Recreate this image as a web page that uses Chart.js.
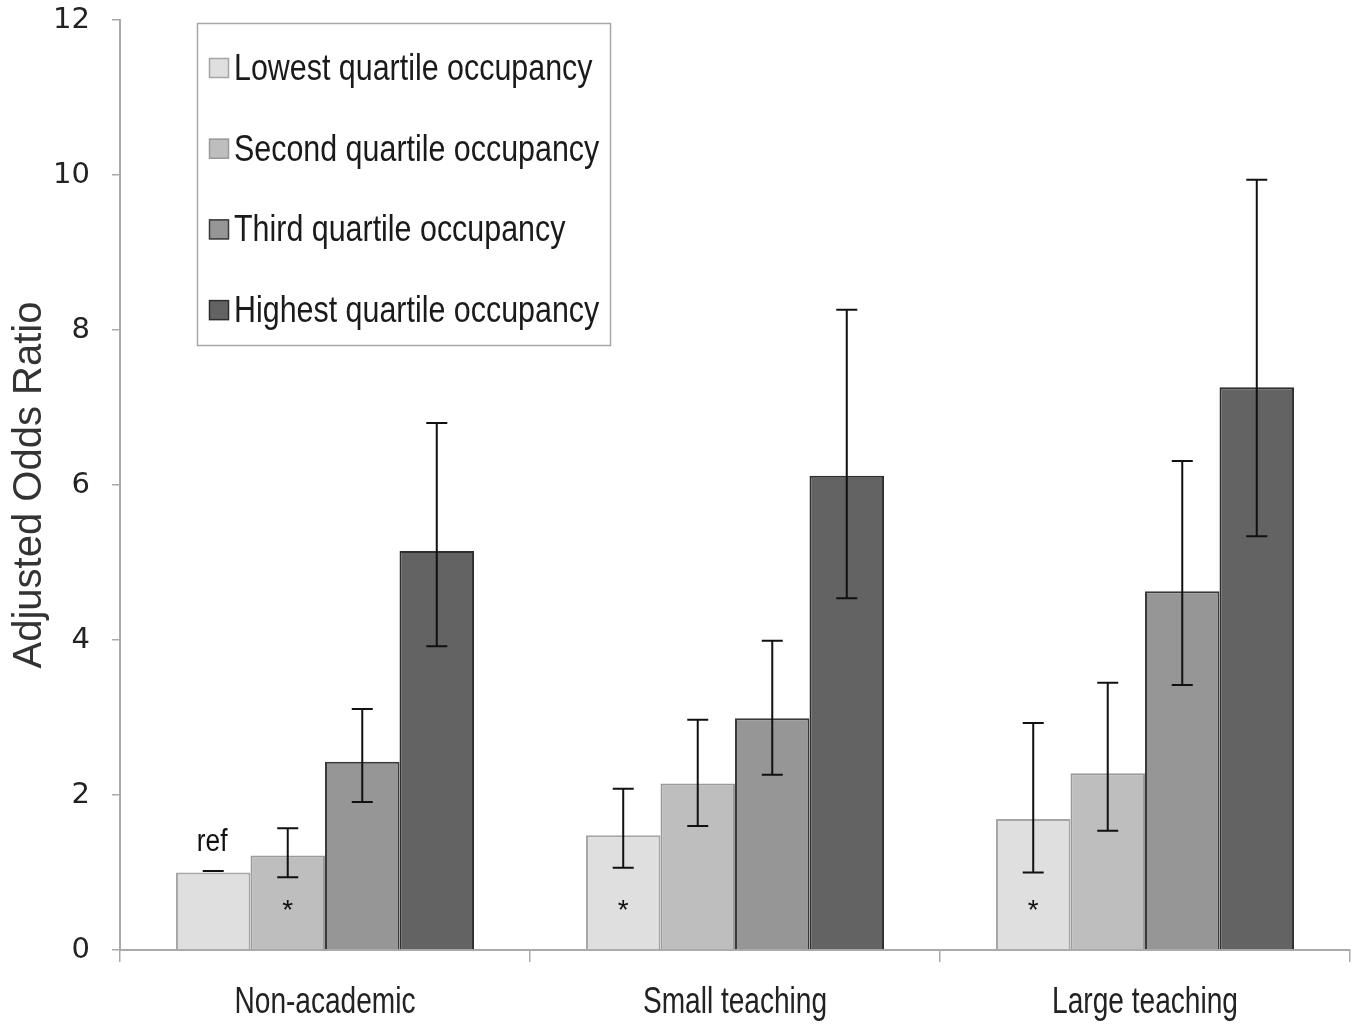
<!DOCTYPE html>
<html>
<head>
<meta charset="utf-8">
<script src="https://cdn.jsdelivr.net/npm/chart.js@4/dist/chart.umd.min.js"></script>
<style>
  html, body { margin: 0; padding: 0; background: #fff; }
  #wrap { width: 1357px; height: 1024px; }
</style>
</head>
<body>
<div id="wrap"><canvas id="chart-occupancy"></canvas></div>
<script>
// data
const CATEGORIES = ['Non-academic', 'Small teaching', 'Large teaching'];
const SERIES_NAMES = ['Lowest quartile occupancy', 'Second quartile occupancy', 'Third quartile occupancy', 'Highest quartile occupancy'];

const LOWEST = [1.0, 1.48, 1.69];
const SECOND = [1.22, 2.15, 2.28];
const THIRD = [2.43, 2.99, 4.63];
const HIGHEST = [5.15, 6.12, 7.26];

// 95% CI ends
const LOWEST_LO = [1.02, 1.06, 1.0];
const LOWEST_HI = [1.02, 2.08, 2.93];
const SECOND_LO = [0.94, 1.6, 1.54];
const SECOND_HI = [1.57, 2.97, 3.45];
const THIRD_LO = [1.91, 2.26, 3.42];
const THIRD_HI = [3.11, 3.99, 6.31];
const HIGHEST_LO = [3.92, 4.54, 5.34];
const HIGHEST_HI = [6.8, 8.26, 9.94];

// marks written on bars: [series, category, text]
const NOTES = [[0, 0, 'ref'], [1, 0, '*'], [0, 1, '*'], [0, 2, '*']];

const FILLS = ['#dfdfdf', '#bebebe', '#969696', '#636363'];
const EDGES = ['#a5a5a5', '#9a9a9a', '#3a3a3a', '#2e2e2e'];

const errLow = [LOWEST_LO, SECOND_LO, THIRD_LO, HIGHEST_LO];
const errHigh = [LOWEST_HI, SECOND_HI, THIRD_HI, HIGHEST_HI];

const errorBars = {
    id: 'errorBars',
    afterDatasetsDraw(chart) {
        const ctx = chart.ctx;
        const y = chart.scales.y;
        ctx.save();
        ctx.strokeStyle = '#111';
        ctx.lineWidth = 2;
        chart.data.datasets.forEach(function(ds, i) {
            chart.getDatasetMeta(i).data.forEach(function(bar, j) {
                var top = y.getPixelForValue(errHigh[i][j]);
                var bot = y.getPixelForValue(errLow[i][j]);
                var half = 10.5;
                ctx.beginPath();
                ctx.moveTo(bar.x, top); ctx.lineTo(bar.x, bot);
                ctx.moveTo(bar.x - half, top); ctx.lineTo(bar.x + half, top);
                ctx.moveTo(bar.x - half, bot); ctx.lineTo(bar.x + half, bot);
                ctx.stroke();
            });
        });
        ctx.restore();
    }
};

// squeeze text sideways, the figure's font is a narrow one
function narrowText(ctx, text, x, y, squeeze) {
    ctx.save();
    ctx.translate(x, y);
    ctx.scale(squeeze, 1);
    ctx.fillText(text, 0, 0);
    ctx.restore();
}

const barNotes = {
    id: 'barNotes',
    afterDatasetsDraw(chart) {
        const ctx = chart.ctx;
        const y = chart.scales.y;
        ctx.save();
        ctx.fillStyle = '#111';
        ctx.textAlign = 'center';
        NOTES.forEach(function(n) {
            var bar = chart.getDatasetMeta(n[0]).data[n[1]];
            if (n[2] === 'ref') {
                ctx.font = '31px "Liberation Sans", sans-serif';
                ctx.textBaseline = 'alphabetic';
                narrowText(ctx, n[2], bar.x - 1, bar.y - 22, 0.85);
            } else {
                ctx.font = '28px "Liberation Sans", sans-serif';
                ctx.textBaseline = 'middle';
                ctx.fillText(n[2], bar.x, y.getPixelForValue(0.5));
            }
        });
        ctx.restore();
    }
};

// category names under the x axis, at the scale's own tick positions
const narrowCategoryLabels = {
    id: 'narrowCategoryLabels',
    afterDraw(chart) {
        const ctx = chart.ctx;
        const x = chart.scales.x;
        ctx.save();
        ctx.fillStyle = '#222';
        ctx.font = '36px "Liberation Sans", sans-serif';
        ctx.textAlign = 'center';
        ctx.textBaseline = 'middle';
        x.ticks.forEach(function(t, i) {
            narrowText(ctx, chart.data.labels[t.value], x.getPixelForTick(i), x.bottom - 21, 0.78);
        });
        ctx.restore();
    }
};

// boxed legend sitting inside the plot
const boxLegend = {
    id: 'boxLegend',
    afterDraw(chart) {
        const ctx = chart.ctx;
        ctx.save();
        ctx.strokeStyle = '#a8a8a8';
        ctx.lineWidth = 1.5;
        ctx.strokeRect(197.5, 23.5, 413, 322);
        ctx.font = '36px "Liberation Sans", sans-serif';
        ctx.textBaseline = 'middle';
        ctx.textAlign = 'left';
        chart.data.datasets.forEach(function(ds, i) {
            var cy = 68 + i * 80.7;
            ctx.fillStyle = ds.backgroundColor;
            ctx.fillRect(209, cy - 10, 20, 20);
            ctx.strokeStyle = ds.borderColor;
            ctx.lineWidth = 1.5;
            ctx.strokeRect(209.5, cy - 9.5, 19, 19);
            ctx.fillStyle = '#1a1a1a';
            narrowText(ctx, ds.label, 234, cy + 2, 0.845);
        });
        ctx.restore();
    }
};

var seriesValues = [LOWEST, SECOND, THIRD, HIGHEST];
var domChart = document.getElementById('chart-occupancy');
new Chart(domChart, {
    type: 'bar',
    data: {
        labels: CATEGORIES,
        datasets: SERIES_NAMES.map(function(name, i) {
            return {
                label: name,
                data: seriesValues[i],
                backgroundColor: FILLS[i],
                borderColor: EDGES[i],
                borderWidth: 2,
                categoryPercentage: 0.727,
                barPercentage: 1.0
            };
        })
    },
    options: {
        responsive: true,
        maintainAspectRatio: false,
        animation: false,
        layout: { padding: { top: 20, right: 7, bottom: 0, left: 0 } },
        plugins: {
            legend: { display: false },
            tooltip: { enabled: false }
        },
        scales: {
            x: {
                grid: { offset: true, drawOnChartArea: false, tickLength: 12, color: '#aaa', lineWidth: 1.5 },
                border: { color: '#aaa', width: 2 },
                ticks: { display: false },
                afterFit: function(s) { s.height = 74; }
            },
            y: {
                min: 0,
                max: 12,
                grid: { drawOnChartArea: false, tickLength: 8, color: '#aaa', lineWidth: 1.5 },
                border: { color: '#aaa', width: 2 },
                ticks: {
                    stepSize: 2,
                    color: '#222',
                    padding: 22,
                    font: { family: '"DejaVu Sans", sans-serif', size: 29 }
                },
                title: {
                    display: true,
                    text: 'Adjusted Odds Ratio',
                    color: '#333',
                    padding: { top: 6, bottom: 0 },
                    font: { family: '"Liberation Sans", sans-serif', size: 40 }
                },
                afterFit: function(s) {
                    s.width = 120;
                    s.paddingTop = 0;
                    s.paddingBottom = 0;
                }
            }
        }
    },
    plugins: [errorBars, barNotes, narrowCategoryLabels, boxLegend]
});
</script>
</body>
</html>
